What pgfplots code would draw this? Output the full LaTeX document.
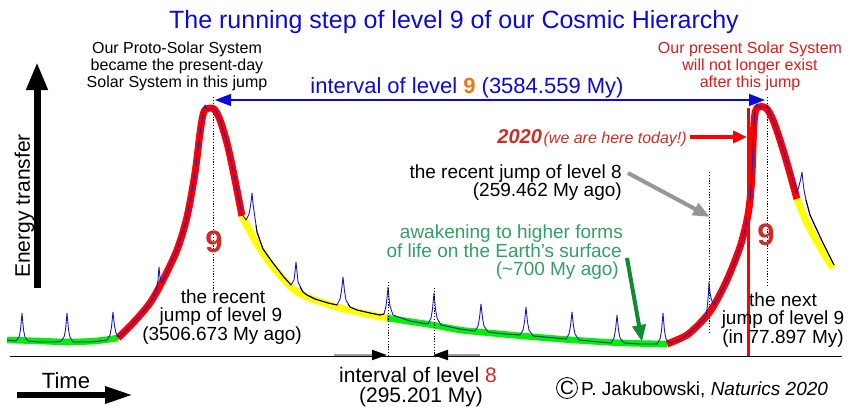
\documentclass[border=0pt]{standalone}
\usepackage{pgfplots}
\pgfplotsset{compat=1.18}
\usepackage{fontspec}
\setmainfont{Liberation Sans}
\usetikzlibrary{arrows.meta}
\definecolor{tblue}{RGB}{10,10,220}
\definecolor{orng}{RGB}{240,120,20}
\definecolor{nred}{RGB}{205,45,35}
\definecolor{txtred}{RGB}{225,25,25}
\definecolor{lgreen}{RGB}{50,160,100}
\definecolor{agreen}{RGB}{15,140,50}
\definecolor{thinc}{RGB}{25,25,190}
\definecolor{cred}{RGB}{255,0,0}
\definecolor{cyel}{RGB}{255,255,0}
\definecolor{cgrn}{RGB}{0,240,0}
\newcommand{\fs}[1]{\fontsize{#1}{#1}\selectfont}
\begin{document}
\begin{tikzpicture}
\begin{axis}[width=852pt,height=407pt,scale only axis,
  xmin=0,xmax=852,ymin=0,ymax=407,y dir=reverse,hide axis,clip=false]
\path (axis cs:0,0) rectangle (axis cs:852,407);
% thick coloured curve
\addplot[cgrn,line width=6.5pt,smooth] coordinates {(7,340) (40,341) (67,342) (95,341) (118,338)};
\addplot[cred,line width=7pt,smooth,line join=round] coordinates {(118,338) (133,323) (150,303) (163,280) (177,250) (187,217) (195,173) (200,133) (203,115) (206,109) (214,109) (220,120) (227,143) (233,170) (242,216)};
\addplot[cyel,line width=7pt,smooth] coordinates {(242,216) (253,237) (263,253) (273,267) (292,288) (307,297) (337,307) (357,312) (387,318)};
\addplot[cgrn,line width=6.5pt,smooth] coordinates {(387,318) (413,322) (433,325) (460,330) (480,332) (523,336) (573,340) (623,343) (667,344)};
\addplot[cred,line width=7pt,smooth,line join=round] coordinates {(667,344) (687,335) (703,320) (713,307) (727,280) (740,247) (747,220) (750,200) (752,173) (754,123) (757,108) (766,108) (773,120) (780,140) (787,163) (797,199)};
\addplot[cyel,line width=7pt,smooth] coordinates {(797,199) (807,223) (820,247) (833,268)};
% thin line with spikes
\addplot[thinc,line width=0.9pt,line join=round] coordinates {
(7,340) (16,341) (19,337) (20.5,330) (22,313) (23.5,330) (25,337) (28,341) (40,342) (55,342)
(61,341) (64,337) (65.5,330) (67,313) (68.5,330) (70,337) (73,342) (90,342) (100,341)
(107,340) (110,335) (111.5,327) (113,312) (114.5,326) (116,333) (119,337)
(126,331) (133,323) (142,313) (150,303) (154,297) (156.5,289) (158,280) (159,267) (160,277) (161.5,283) (164,279)
(170,265) (177,250) (182,234) (187,217) (191,196) (195,173) (198,150) (200,133) (203,115) (204,108) (205,105) (206,109) (215,109)
(220,120) (227,143) (233,170) (238,195) (242,214) (246,220) (249,214) (250.7,205) (252,193) (253.3,206) (255,218) (257,232)
(263,249) (273,263) (283,276) (291,285) (294,280) (295,272) (296,262) (297,272) (298,282)
(303,292) (307,295) (315,299) (328,303) (337,305) (340,299) (341.5,291) (343,277) (344.5,291) (346,300) (350,307)
(357,310) (370,313) (380,315) (384,314) (386,306) (387,298) (388,287) (389,298) (390,306) (393,315)
(410,321) (428,324) (431,318) (432.5,309) (434,293) (435.5,309) (437,318) (441,325) (460,329)
(475,331) (478,326) (479.5,318) (481,304) (482.5,318) (484,326) (488,332) (505,334)
(520,335) (523,330) (524.5,322) (526,307) (527.5,322) (529,330) (533,336) (555,338)
(566,339) (569,334) (570.5,326) (572,312) (573.5,326) (575,334) (579,340) (600,342)
(611,343) (614,338) (615.5,330) (617,315) (618.5,330) (620,338) (624,343) (640,344)
(657,344) (660,339) (661.5,331) (663,313) (664.5,331) (666,339) (670,343)
(679,340) (687,335) (695,328) (703,320) (706,316) (707.5,305) (708.3,295) (709,282) (710,293) (711.5,300) (714,305)
(720,294) (727,280) (734,264) (740,247) (744,234) (747,220) (750,200) (752,173) (754,123) (755.5,108) (757,104) (758,107) (767,107)
(773,120) (780,140) (787,163) (792,178) (797,193) (799,186) (800.5,180) (802,172) (803,182) (804,190)
(806,200) (810,215) (816,228) (823,243) (834,265)};
% black overlay in yellow regions
\addplot[black,line width=0.9pt,line join=round] coordinates {(256,225) (257,232) (263,249) (273,263) (283,276) (291,285)};
\addplot[black,line width=0.9pt,line join=round] coordinates {(300,287) (303,292) (307,295) (315,299) (328,303) (337,305)};
\addplot[black,line width=0.9pt,line join=round] coordinates {(348,304) (350,307) (357,310) (370,313) (380,315) (384,314)};
\addplot[black,line width=0.9pt,line join=round] coordinates {(806,200) (810,215) (816,228) (823,243) (834,265)};
% dotted lines
\addplot[black,line width=0.8pt,dash pattern=on 1.2pt off 1.6pt] coordinates {(213,97) (213,292)};
\addplot[black,line width=0.8pt,dash pattern=on 1.2pt off 1.6pt] coordinates {(767,97) (767,285)};
\addplot[black,line width=0.8pt,dash pattern=on 1.2pt off 1.6pt] coordinates {(709,172) (709,334)};
\addplot[black,line width=0.8pt,dash pattern=on 1.2pt off 1.6pt] coordinates {(388,282) (388,356)};
\addplot[black,line width=0.8pt,dash pattern=on 1.2pt off 1.6pt] coordinates {(434,288) (434,356)};
% baseline and arrows
\draw[line width=1pt] (axis cs:10,356) -- (axis cs:842,356);
\draw[line width=7pt,-{Triangle[length=28pt,width=20pt]}] (axis cs:37,288) -- (axis cs:37,62);
\draw[line width=6pt,-{Triangle[length=28pt,width=16pt]}] (axis cs:17,395) -- (axis cs:133,395);
\draw[tblue,line width=1.4pt,{Triangle[length=16pt,width=12pt]}-{Triangle[length=16pt,width=12pt]}] (axis cs:215,100) -- (axis cs:765,100);
\draw[gray!75,line width=2pt,-{Triangle[black,length=15pt,width=10pt]}] (axis cs:334,355) -- (axis cs:387,355);
\draw[gray!75,line width=2pt,-{Triangle[black,length=15pt,width=10pt]}] (axis cs:480,355) -- (axis cs:433,355);
\draw[cred,line width=3pt] (axis cs:748,108) -- (axis cs:748,356);
\draw[cred,line width=3.5pt,-{Triangle[length=14pt,width=12pt]}] (axis cs:690,137) -- (axis cs:747,137);
\draw[gray!90!black!75,line width=4pt,-{Triangle[length=17pt,width=13pt]}] (axis cs:628,173) -- (axis cs:710,217);
\draw[agreen,line width=4pt,-{Triangle[length=17pt,width=13pt]}] (axis cs:627,258) -- (axis cs:642,342);
% texts
\node[anchor=base,inner sep=0pt,text=tblue,font=\fs{25}] at (axis cs:454,28) {The running step of level 9 of our Cosmic Hierarchy};
\node[anchor=base,inner sep=0pt,font=\fs{16}] at (axis cs:177,53) {Our Proto-Solar System};
\node[anchor=base,inner sep=0pt,font=\fs{16}] at (axis cs:177,70) {became the present-day};
\node[anchor=base,inner sep=0pt,font=\fs{16}] at (axis cs:177,87) {Solar System in this jump};
\node[anchor=base,inner sep=0pt,text=txtred,font=\fs{16}] at (axis cs:750,53) {Our present Solar System};
\node[anchor=base,inner sep=0pt,text=txtred,font=\fs{16}] at (axis cs:750,70) {will not longer exist};
\node[anchor=base,inner sep=0pt,text=txtred,font=\fs{16}] at (axis cs:750,87) {after this jump};
\node[anchor=base,inner sep=0pt,text=tblue,font=\fs{22}] at (axis cs:467,93) {interval of level {\bfseries\color{orng}9} (3584.559 My)};
\node[anchor=base east,inner sep=0pt,text=nred] at (axis cs:687,143) {{\fs{20}\bfseries\itshape 2020}\,{\fs{16}\itshape (we are here today!)}};
\node[anchor=base east,inner sep=0pt,font=\fs{19}] at (axis cs:622,178) {the recent jump of level 8};
\node[anchor=base east,inner sep=0pt,font=\fs{19}] at (axis cs:622,196) {(259.462 My ago)};
\node[anchor=base east,inner sep=0pt,text=lgreen,font=\fs{19}] at (axis cs:623,238) {awakening to higher forms};
\node[anchor=base east,inner sep=0pt,text=lgreen,font=\fs{19}] at (axis cs:622,257) {of life on the Earth’s surface};
\node[anchor=base east,inner sep=0pt,text=lgreen,font=\fs{19}] at (axis cs:619,275) {(\textasciitilde700 My ago)};
\node[anchor=base,inner sep=0pt,text=nred,font=\fs{31}\bfseries] at (axis cs:214,252) {9};
\node[anchor=base,inner sep=0pt,text=nred,font=\fs{31}\bfseries] at (axis cs:766,245) {9};
\node[anchor=base,inner sep=0pt,font=\fs{19}] at (axis cs:223,303) {the recent};
\node[anchor=base,inner sep=0pt,font=\fs{19}] at (axis cs:221,321) {jump of level 9};
\node[anchor=base,inner sep=0pt,font=\fs{19}] at (axis cs:222,340) {(3506.673 My ago)};
\node[anchor=base,inner sep=0pt,font=\fs{19}] at (axis cs:783,306) {the next};
\node[anchor=base,inner sep=0pt,font=\fs{19}] at (axis cs:783,324) {jump of level 9};
\node[anchor=base,inner sep=0pt,font=\fs{19}] at (axis cs:783,343) {(in 77.897 My)};
\node[anchor=base,inner sep=0pt,rotate=90,font=\fs{21}] at (axis cs:30,206) {Energy transfer};
\node[anchor=base,inner sep=0pt,font=\fs{22}] at (axis cs:66,388) {Time};
\node[anchor=base,inner sep=0pt,font=\fs{21}] at (axis cs:418,382) {interval of level {\color{nred}8}};
\node[anchor=base,inner sep=0pt,font=\fs{21}] at (axis cs:421,402) {(295.201 My)};
\node[circle,draw,line width=0.8pt,inner sep=0.5pt,minimum size=21pt,font=\fs{19}] at (axis cs:567,388) {C};
\node[anchor=base west,inner sep=0pt,font=\fs{19}] at (axis cs:581,395) {P. Jakubowski, \textit{Naturics 2020}};
\end{axis}
\end{tikzpicture}
\end{document}
